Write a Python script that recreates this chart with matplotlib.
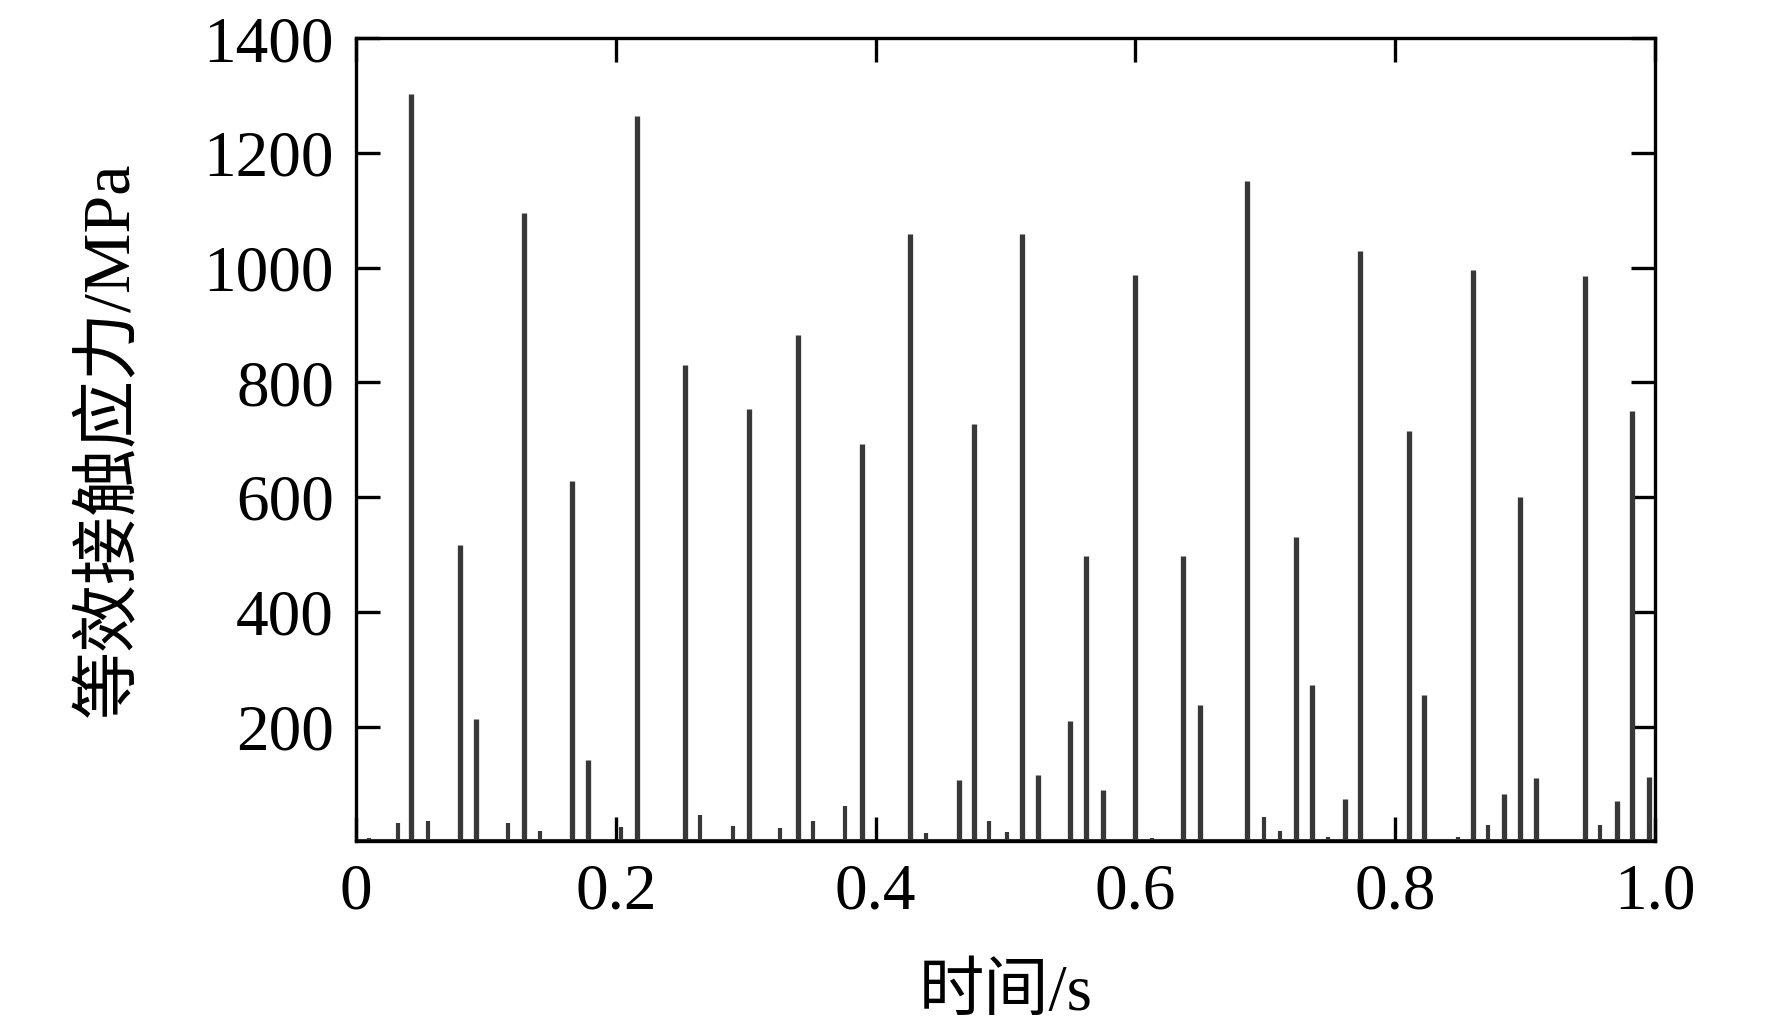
import numpy as np
import matplotlib
matplotlib.use('Agg')
import matplotlib.pyplot as plt

# ---- data (time in s, stress in MPa) ----
peak_t = [0.0422, 0.0796, 0.092, 0.1289, 0.1664, 0.1785, 0.2159, 0.2531,
          0.3024, 0.3398, 0.3894, 0.4263, 0.4643, 0.4758, 0.513, 0.525,
          0.5497, 0.562, 0.5748, 0.600, 0.6369, 0.6493, 0.686, 0.7233,
          0.7357, 0.761, 0.7729, 0.8103, 0.8224, 0.8596, 0.8835, 0.8957,
          0.9087, 0.946, 0.9705, 0.9826, 0.995]
peak_h = [1303, 517, 214, 1095, 628, 142, 1264, 831,
          754, 883, 692, 1058, 106, 728, 1058, 116,
          210, 498, 90, 988, 498, 237, 1152, 531,
          272, 73, 1030, 715, 255, 996, 83, 600,
          110, 985, 71, 750, 112]

small_t = [0.010, 0.032, 0.0556, 0.117, 0.1417, 0.204, 0.2425, 0.265,
           0.290, 0.3266, 0.3516, 0.3763, 0.439, 0.4875, 0.501, 0.6125,
           0.699, 0.7114, 0.748, 0.8318, 0.848, 0.8716, 0.935, 0.958]
small_h = [6, 31, 36, 32, 18, 25, 4, 46,
           27, 23, 36, 61, 14, 36, 16, 6,
           43, 18, 7, 4, 8, 29, 3, 28]

baseline_level = 3

xticks = [0, 0.2, 0.4, 0.6, 0.8, 1.0]
xticklabels = ['0', '0.2', '0.4', '0.6', '0.8', '1.0']
yticks = [200, 400, 600, 800, 1000, 1200, 1400]

fonts = ['Liberation Serif', 'Noto Sans CJK SC', 'DejaVu Sans']
plt.rcParams['font.family'] = fonts

fig = plt.figure(figsize=(17.72, 10.36), dpi=100)
ax = fig.add_axes([0.201, 0.188, 0.733, 0.775])

line_color = '#383838'
ax.axhline(baseline_level, color=line_color, linewidth=2.2, zorder=1)
ax.vlines(small_t, 0, small_h, color=line_color, linewidth=3.0, zorder=2)
ax.vlines(peak_t, 0, peak_h, color=line_color, linewidth=3.8, zorder=2)

ax.set_xlim(0, 1.0)
ax.set_ylim(0, 1400)
ax.set_xticks(xticks)
ax.set_xticklabels(xticklabels)
ax.set_yticks(yticks)

ax.tick_params(axis='both', which='major', direction='in', length=17, width=2.4,
               top=True, right=True, labelsize=47, pad=16)
for s in ax.spines.values():
    s.set_linewidth(2.4)

ax.set_xlabel('时间/s', fontsize=47, labelpad=30)
ax.set_ylabel('等效接触应力/MPa', fontsize=49, labelpad=44)

fig.savefig('out.png', dpi=100)
